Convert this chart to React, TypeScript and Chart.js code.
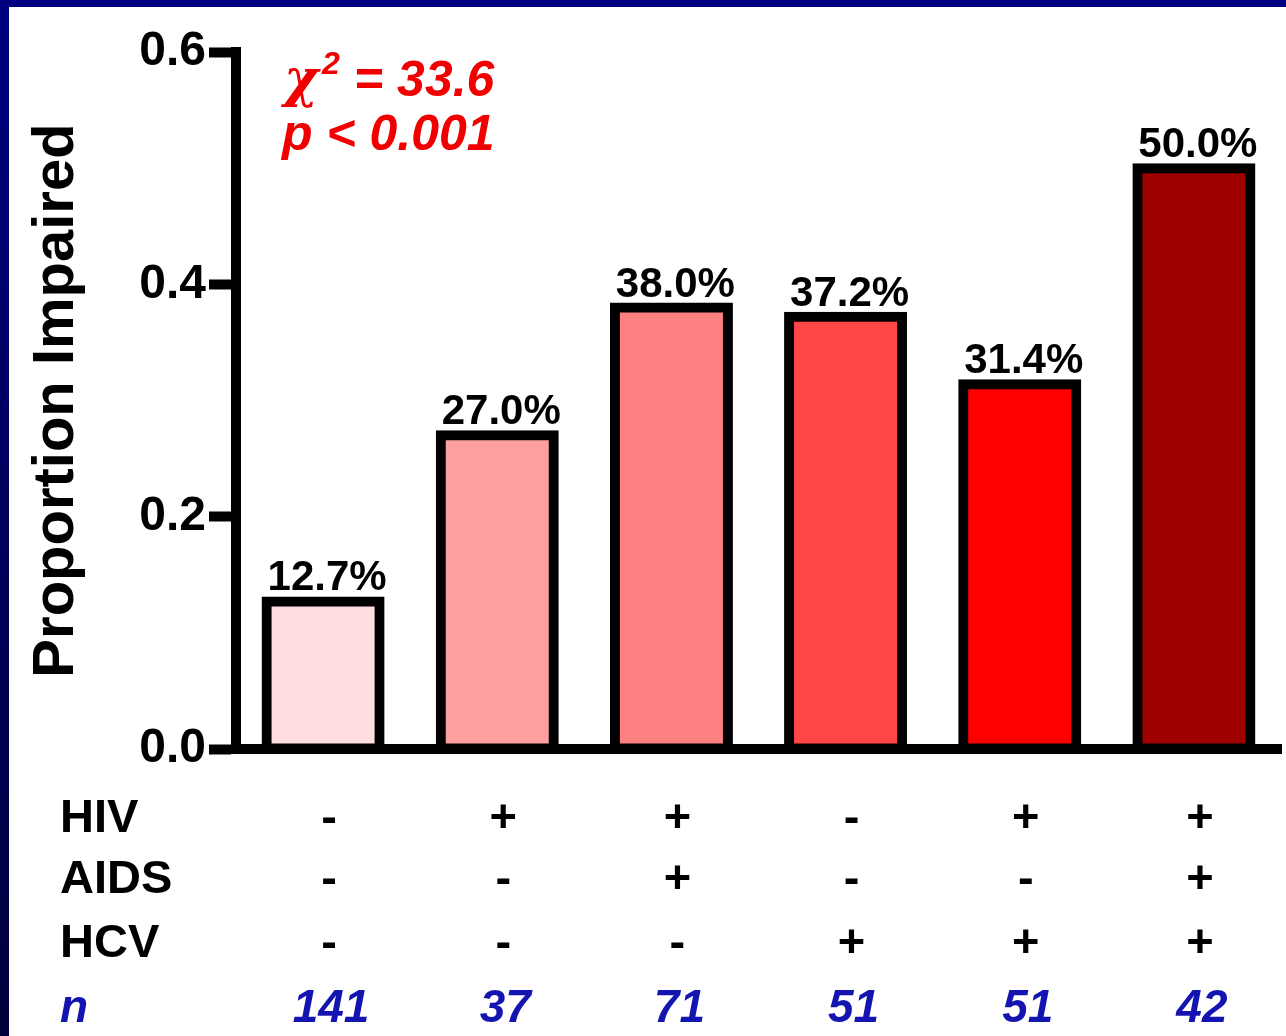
import React, { useEffect, useRef } from "react";
import { Chart, registerables } from "chart.js";

Chart.register(...registerables);

const categories = ["HIV-/AIDS-/HCV-", "HIV+", "HIV+/AIDS+", "HCV+", "HIV+/HCV+", "HIV+/AIDS+/HCV+"];
const proportions = [0.127, 0.27, 0.38, 0.372, 0.314, 0.5];
const barColors = ["#FFDDE0", "#FFA0A0", "#FF8080", "#FF4545", "#FF0000", "#9E0000"];
const hivRow = ["-", "+", "+", "-", "+", "+"];
const aidsRow = ["-", "-", "+", "-", "-", "+"];
const hcvRow = ["-", "-", "-", "+", "+", "+"];
const nRow = ["141", "37", "71", "51", "51", "42"];
const rowLabels = ["HIV", "AIDS", "HCV"];
const yTicks = [0, 0.2, 0.4, 0.6];
const chiText = "33.6";
const pText = "p < 0.001";

const FONT = "'Liberation Sans', Arial, Helvetica, sans-serif";

const valueLabelPlugin = {
  id: "valueLabels",
  afterDatasetsDraw(chart: any) {
    const ctx = chart.ctx;
    const meta = chart.getDatasetMeta(0);
    ctx.save();
    ctx.font = `bold 42px ${FONT}`;
    ctx.fillStyle = "#000";
    ctx.textAlign = "center";
    ctx.textBaseline = "alphabetic";
    meta.data.forEach((el: any, i: number) => {
      const txt = (proportions[i] * 100).toFixed(1) + "%";
      ctx.fillText(txt, el.x + 4, el.y - 11);
    });
    ctx.restore();
  },
};

const tablePlugin = {
  id: "groupTable",
  afterDraw(chart: any) {
    const ctx = chart.ctx;
    const xs = chart.scales.x;
    const base = chart.chartArea.bottom;
    const rows = [hivRow, aidsRow, hcvRow];
    const offsets = [83, 144, 208];
    ctx.save();
    ctx.textBaseline = "alphabetic";
    rows.forEach((row, r) => {
      const y = base + offsets[r];
      ctx.font = `bold 47px ${FONT}`;
      ctx.fillStyle = "#000";
      ctx.textAlign = "left";
      ctx.fillText(rowLabels[r], 60, y);
      ctx.textAlign = "center";
      row.forEach((s, i) => {
        ctx.fillText(s, xs.getPixelForValue(i) + 6, y);
      });
    });
    const ny = base + 273;
    ctx.fillStyle = "#1414B0";
    ctx.font = `italic bold 46px ${FONT}`;
    ctx.textAlign = "left";
    ctx.fillText("n", 60, ny);
    ctx.textAlign = "center";
    nRow.forEach((s, i) => {
      ctx.fillText(s, xs.getPixelForValue(i) + 8, ny);
    });
    ctx.restore();
  },
};

const statsPlugin = {
  id: "stats",
  afterDraw(chart: any) {
    const ctx = chart.ctx;
    const left = chart.chartArea.left;
    const top = chart.chartArea.top;
    ctx.save();
    ctx.fillStyle = "#F00000";
    ctx.textAlign = "left";
    ctx.textBaseline = "alphabetic";
    const x0 = left + 48;
    ctx.font = `italic bold 52px 'DejaVu Serif', serif`;
    ctx.fillText("\u03C7", x0, top + 44);
    ctx.font = `italic bold 32px ${FONT}`;
    ctx.fillText("2", x0 + 38, top + 22);
    ctx.font = `italic bold 50px ${FONT}`;
    ctx.fillText("= " + chiText, x0 + 70, top + 44);
    ctx.fillText(pText, x0 - 2, top + 98);
    ctx.restore();
  },
};

export default function App() {
  const ref = useRef<HTMLCanvasElement | null>(null);
  useEffect(() => {
    if (!ref.current) return;
    Chart.defaults.font.family = FONT;
    const chart = new Chart(ref.current, {
      type: "bar",
      data: {
        labels: categories,
        datasets: [
          {
            data: proportions,
            backgroundColor: barColors,
            borderColor: "#000",
            borderWidth: 10,
            borderSkipped: false,
            inflateAmount: 5,
            barPercentage: 0.649,
            categoryPercentage: 1,
          } as any,
        ],
      },
      options: {
        responsive: false,
        animation: false,
        devicePixelRatio: 1,
        layout: { padding: { left: 0, top: 52, right: 5, bottom: 287 } },
        plugins: { legend: { display: false }, tooltip: { enabled: false } },
        scales: {
          x: {
            type: "category",
            offset: true,
            grid: { display: false },
            ticks: { display: false },
            border: { display: true, width: 10, color: "#000" },
            afterFit: (s: any) => {
              s.height = 0;
            },
          },
          y: {
            min: 0,
            max: 0.6,
            afterBuildTicks: (s: any) => {
              s.ticks = yTicks.map((v) => ({ value: v }));
            },
            ticks: {
              stepSize: 0.2,
              color: "#000",
              padding: 3,
              font: { size: 48, weight: "bold", family: FONT },
              callback: (v: any) => Number(v).toFixed(1),
            },
            grid: {
              display: true,
              drawOnChartArea: false,
              drawTicks: true,
              tickLength: 27,
              tickWidth: 10,
              tickColor: "#000",
            },
            border: { display: true, width: 10, color: "#000" },
            title: {
              display: true,
              text: "Proportion Impaired",
              color: "#000",
              font: { size: 58, weight: "bold", family: FONT },
              padding: { top: 22, bottom: 0 },
            },
            afterFit: (s: any) => {
              s.width = 236;
            },
          },
        },
      },
      plugins: [valueLabelPlugin, tablePlugin, statsPlugin],
    });
    return () => chart.destroy();
  }, []);

  return (
    <div style={{ position: "absolute", left: 0, top: 0, width: 1286, height: 1036, background: "#fff", overflow: "hidden" }}>
      <canvas ref={ref} width={1286} height={1036} style={{ position: "absolute", left: 0, top: 0, width: 1286, height: 1036 }} />
      <div style={{ position: "absolute", left: 0, top: 0, width: 1286, height: 7, background: "#000080" }} />
      <div style={{ position: "absolute", left: 0, top: 0, width: 9, height: 1036, background: "linear-gradient(#000080, #00003C)" }} />
    </div>
  );
}
